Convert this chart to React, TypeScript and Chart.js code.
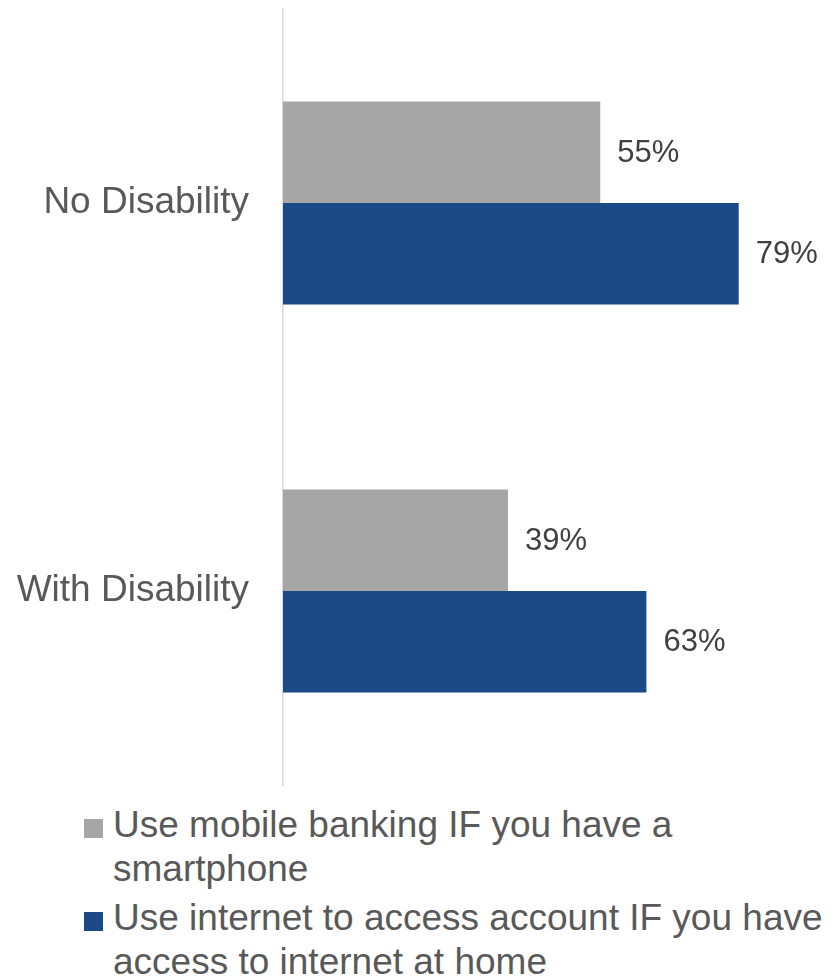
import React, { useEffect, useRef } from "react";
import { Chart, registerables } from "chart.js";

Chart.register(...registerables);

const categories = ["No Disability", "With Disability"];
const seriesNames = [
  "Use mobile banking IF you have a smartphone",
  "Use internet to access account IF you have access to internet at home",
];
const mobileBanking = [55, 39];
const internetAccess = [79, 63];
const seriesColors = ["#a6a6a6", "#1b4a87"];

const FONT = "'Liberation Sans', Arial, Helvetica, sans-serif";

const valueLabels = {
  id: "valueLabels",
  afterDatasetsDraw(chart: any) {
    const ctx = chart.ctx;
    ctx.save();
    ctx.font = `31px ${FONT}`;
    ctx.fillStyle = "#404040";
    ctx.textAlign = "left";
    ctx.textBaseline = "middle";
    chart.data.datasets.forEach((ds: any, di: number) => {
      const meta = chart.getDatasetMeta(di);
      meta.data.forEach((bar: any, i: number) => {
        ctx.fillText(`${ds.data[i]}%`, bar.x + 17, bar.y + 1);
      });
    });
    ctx.restore();
  },
};

export default function App() {
  const ref = useRef<HTMLCanvasElement>(null);
  useEffect(() => {
    if (!ref.current) return;
    const chart = new Chart(ref.current, {
      type: "bar",
      data: {
        labels: categories,
        datasets: [
          { label: seriesNames[0], data: mobileBanking, backgroundColor: seriesColors[0] },
          { label: seriesNames[1], data: internetAccess, backgroundColor: seriesColors[1] },
        ],
      },
      options: {
        indexAxis: "y",
        responsive: false,
        animation: false,
        devicePixelRatio: 1,
        layout: { padding: { top: 9, bottom: 5, left: 0, right: 6 } },
        datasets: { bar: { barPercentage: 1, categoryPercentage: 0.523 } },
        plugins: { legend: { display: false }, tooltip: { enabled: false } },
        scales: {
          x: { display: false, min: 0, max: 95 },
          y: {
            afterFit: (s: any) => {
              s.width = 283;
              s.paddingTop = 0;
              s.paddingBottom = 0;
            },
            grid: { display: false, drawTicks: false },
            border: { display: true, color: "#d9d9d9", width: 1.5 },
            ticks: {
              padding: 34,
              color: "#595959",
              font: { size: 37, family: FONT },
            },
          },
        },
      } as any,
      plugins: [valueLabels],
    });
    return () => chart.destroy();
  }, []);

  const item = (color: string, text: string, top: number) => (
    <div style={{ position: "absolute", left: 84, top, display: "flex", alignItems: "flex-start" }}>
      <div style={{ width: 19, height: 19, background: color, marginTop: 16, marginRight: 10, flex: "none" }} />
      <div style={{ width: 720, fontSize: 37, lineHeight: "44px", color: "#595959", fontFamily: FONT }}>{text}</div>
    </div>
  );

  return (
    <div style={{ position: "absolute", left: 0, top: 0, width: 837, height: 978, background: "#fff", overflow: "hidden" }}>
      <canvas ref={ref} width={837} height={790} style={{ display: "block" }} />
      {item(seriesColors[0], seriesNames[0], 803)}
      {item(seriesColors[1], seriesNames[1], 896)}
    </div>
  );
}
